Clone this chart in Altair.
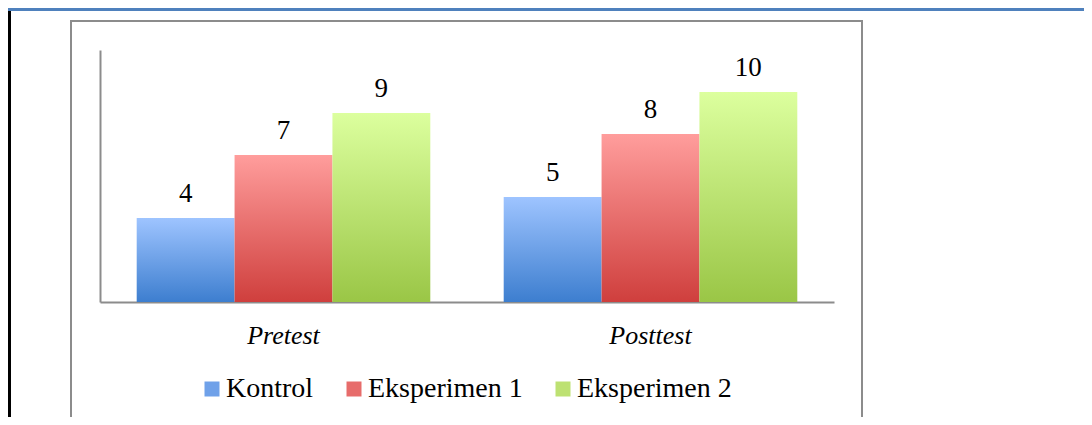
import altair as alt
import pandas as pd

# ---- data ----
categories = ["Pretest", "Posttest"]
series = ["Kontrol", "Eksperimen 1", "Eksperimen 2"]
kontrol = [4, 5]
eksperimen1 = [7, 8]
eksperimen2 = [9, 10]

values = {"Kontrol": kontrol, "Eksperimen 1": eksperimen1, "Eksperimen 2": eksperimen2}
rows = [
    {"test": c, "group": s, "value": values[s][i]}
    for s in series
    for i, c in enumerate(categories)
]
df = pd.DataFrame(rows)

# ---- styles ----
grad = {
    "Kontrol": ("#9EC4FF", "#3D7ECF"),
    "Eksperimen 1": ("#FF9D9C", "#CF3F3D"),
    "Eksperimen 2": ("#DCFF9E", "#9AC646"),
}
legend_colors = ["#6FA1E9", "#E76C6B", "#BDE172"]
SERIF = "Liberation Serif"
AXIS_GRAY = "#8c8c8c"

x_enc = alt.X(
    "test:N",
    sort=categories,
    scale=alt.Scale(domain=categories, paddingInner=0.2, paddingOuter=0.1),
    axis=alt.Axis(
        title=None,
        labelFont=SERIF,
        labelFontStyle="italic",
        labelFontSize=26,
        labelColor="black",
        labelBaseline="alphabetic",
        labelPadding=41,
        labelAngle=0,
        ticks=False,
        tickSize=0,
        domainColor=AXIS_GRAY,
        domainWidth=2,
    ),
)
y_enc = alt.Y(
    "value:Q",
    scale=alt.Scale(domain=[0, 12], nice=False),
    axis=alt.Axis(
        title=None, labels=False, ticks=False, grid=False,
        domainColor=AXIS_GRAY, domainWidth=2,
    ),
)
xo = alt.XOffset(
    "group:N",
    sort=series,
    scale=alt.Scale(domain=series, paddingInner=0, paddingOuter=0),
)

bars = []
for s in series:
    top, bottom = grad[s]
    g = alt.LinearGradient(
        gradient="linear", x1=0, y1=0, x2=0, y2=1,
        stops=[alt.GradientStop(offset=0, color=top),
               alt.GradientStop(offset=1, color=bottom)],
    )
    bars.append(
        alt.Chart(df)
        .transform_filter(alt.datum.group == s)
        .mark_bar(color=g)
        .encode(x=x_enc, y=y_enc, xOffset=xo)
    )

text = (
    alt.Chart(df)
    .mark_text(font=SERIF, fontSize=27, color="black", baseline="alphabetic", dy=-16)
    .encode(x=x_enc, y=y_enc, xOffset=xo, text="value:Q")
)

legend_layer = (
    alt.Chart(df)
    .transform_filter("false")
    .mark_square(size=225, filled=True, opacity=1)
    .encode(
        color=alt.Color(
            "group:N",
            sort=series,
            scale=alt.Scale(domain=series, range=legend_colors),
            legend=alt.Legend(
                title=None, orient="none", legendX=98, legendY=325,
                direction="horizontal", symbolType="square", symbolSize=225,
                symbolStrokeWidth=0, symbolOpacity=1,
                labelFont=SERIF, labelFontSize=28, labelColor="black",
                labelOffset=0, columnPadding=26, padding=0, labelLimit=300,
            ),
        )
    )
)

# ---- decorative frame lines (page border and chart box) ----
one = alt.Data(values=[{"k": 1}])
deco = [
    alt.Chart(one).mark_rule(color=AXIS_GRAY, strokeWidth=2)
    .encode(x=alt.value(-29), y=alt.value(-29), y2=alt.value(420)),
    alt.Chart(one).mark_rule(color=AXIS_GRAY, strokeWidth=2)
    .encode(x=alt.value(-30), x2=alt.value(763), y=alt.value(-29)),
    alt.Chart(one).mark_rule(color=AXIS_GRAY, strokeWidth=2)
    .encode(x=alt.value(762), y=alt.value(-29), y2=alt.value(420)),
    alt.Chart(one).mark_rule(color="black", strokeWidth=3)
    .encode(x=alt.value(-90.5), y=alt.value(-42), y2=alt.value(420)),
    alt.Chart(one).mark_rule(color="#4F81BD", strokeWidth=3)
    .encode(x=alt.value(-92), x2=alt.value(1000), y=alt.value(-40.5)),
]

chart = (
    alt.layer(*deco, *bars, text, legend_layer)
    .properties(
        width=734,
        height=252,
        autosize=alt.AutoSizeParams(type="none"),
        padding={"left": 92, "top": 42, "right": 250, "bottom": 115},
    )
    .configure_view(stroke=None)
)

chart.save("out.html", embed_options={"renderer": "svg", "actions": False})
